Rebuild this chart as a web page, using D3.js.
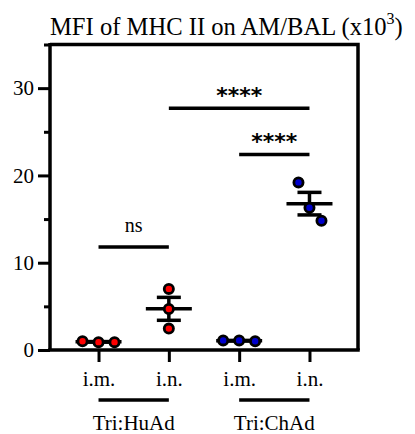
<!DOCTYPE html>
<html>
<head>
<meta charset="utf-8">
<script src="https://cdn.jsdelivr.net/npm/d3@7"></script>
<style>
  html, body { margin: 0; padding: 0; background: #fff; }
  svg { display: block; }
  text { font-family: "Liberation Serif", Tinos, "Times New Roman", Times, "DejaVu Serif", serif; fill: #000; }
</style>
</head>
<body>
<div id="chart"></div>
<script>
// ---- data ----
const categories = ["i.m.", "i.n.", "i.m.", "i.n."];
const groupLabels = ["Tri:HuAd", "Tri:ChAd"];
const huAdIm = [1.0, 0.9, 0.9];
const huAdIn = [7.0, 4.7, 2.45];
const chAdIm = [1.1, 1.1, 1.0];
const chAdIn = [19.2, 16.3, 14.8];
const seriesValues = [huAdIm, huAdIn, chAdIm, chAdIn];
const seriesColors = ["#ff0000", "#ff0000", "#0000cc", "#0000cc"];
const yTicks = [0, 10, 20, 30];
const yMinorTicks = [5, 15, 25, 35];
const comparisons = [
  { from: 0, to: 1, y: 11.8, label: "ns" },
  { from: 1, to: 3, y: 27.7, label: "****" },
  { from: 2, to: 3, y: 22.4, label: "****" }
];
const title = "MFI of MHC II on AM/BAL (x10";

// ---- layout ----
const W = 415, H = 434;
const mLeft = 50, mRight = 358, mTop = 44.5, mBottom = 350;
const serif = '"Liberation Serif", Tinos, "Times New Roman", Times, "DejaVu Serif", serif';
const svg = d3.select("#chart").append("svg").attr("width", W).attr("height", H);

const y = d3.scaleLinear().domain([0, 35]).range([mBottom, mTop]);
const x = d3.scalePoint().domain(d3.range(categories.length)).range([mLeft, mRight]).padding(0.69);
const jitter = [[-16, 0, 16], [0, 0, 0], [-16, 0, 16], [-11, 0, 12]];

// frame top & right
svg.append("path")
  .attr("d", `M${mLeft},${mTop}H${mRight}V${mBottom}`)
  .attr("fill", "none").attr("stroke", "#000").attr("stroke-width", 3.5);

// y axis
const yAxis = svg.append("g").attr("transform", `translate(${mLeft},0)`)
  .call(d3.axisLeft(y).tickValues(yTicks).tickSize(12).tickPadding(4));
yAxis.attr("font-family", null).attr("font-size", null);
svg.append("g").attr("transform", `translate(${mLeft},0)`)
  .call(d3.axisLeft(y).tickValues(yMinorTicks).tickSize(6).tickFormat(""))
  .call(g => g.select(".domain").remove())
  .selectAll("line").attr("stroke", "#000").attr("stroke-width", 3);
yAxis.select(".domain").attr("d", `M0,${mTop - 1.5}V${mBottom}`).attr("stroke", "#000").attr("stroke-width", 3.5);
yAxis.selectAll(".tick line").attr("stroke", "#000").attr("stroke-width", 3);
yAxis.selectAll(".tick text")
  .style("font-family", serif).style("font-size", "21px").attr("fill", "#000");

// x axis
const xAxis = svg.append("g").attr("transform", `translate(0,${mBottom})`)
  .call(d3.axisBottom(x).tickSize(12).tickPadding(10).tickFormat(i => categories[i]));
xAxis.attr("font-family", null).attr("font-size", null);
xAxis.select(".domain").attr("d", `M${mLeft - 1.75},0H${mRight + 1.75}`).attr("stroke", "#000").attr("stroke-width", 3.5);
xAxis.selectAll(".tick line").attr("stroke", "#000").attr("stroke-width", 3);
xAxis.selectAll(".tick text")
  .style("font-family", serif).style("font-size", "21px").attr("fill", "#000")
  .attr("dy", null).attr("y", 36);

// group underlines & labels
groupLabels.forEach((lab, g) => {
  const x0 = x(g * 2), x1 = x(g * 2 + 1);
  svg.append("line").attr("x1", x0).attr("x2", x1).attr("y1", 400).attr("y2", 400)
    .attr("stroke", "#000").attr("stroke-width", 3.5);
  svg.append("text").attr("x", (x0 + x1) / 2).attr("y", 430).attr("text-anchor", "middle")
    .style("font-family", serif).style("font-size", "21px").text(lab);
});

// mean / SEM
seriesValues.forEach((vals, i) => {
  const m = d3.mean(vals);
  const sem = d3.deviation(vals) / Math.sqrt(vals.length);
  const cx = x(i);
  const g = svg.append("g").attr("stroke", "#000").attr("stroke-width", 3.5);
  g.append("line").attr("x1", cx).attr("x2", cx).attr("y1", y(m - sem)).attr("y2", y(m + sem));
  g.append("line").attr("x1", cx - 23).attr("x2", cx + 23).attr("y1", y(m)).attr("y2", y(m));
  g.append("line").attr("x1", cx - 12).attr("x2", cx + 12).attr("y1", y(m + sem)).attr("y2", y(m + sem));
  g.append("line").attr("x1", cx - 12).attr("x2", cx + 12).attr("y1", y(m - sem)).attr("y2", y(m - sem));
});

// points
seriesValues.forEach((vals, i) => {
  svg.append("g").selectAll("circle").data(vals).join("circle")
    .attr("cx", (d, j) => x(i) + jitter[i][j])
    .attr("cy", d => y(d))
    .attr("r", 4.6)
    .attr("fill", seriesColors[i])
    .attr("stroke", "#000").attr("stroke-width", 2.8);
});

// significance
comparisons.forEach(c => {
  const x0 = x(c.from), x1 = x(c.to), yy = y(c.y);
  svg.append("line").attr("x1", x0).attr("x2", x1).attr("y1", yy).attr("y2", yy)
    .attr("stroke", "#000").attr("stroke-width", 3.5);
  if (c.label === "ns") {
    svg.append("text").attr("x", (x0 + x1) / 2).attr("y", yy - 15).attr("text-anchor", "middle")
      .style("font-family", serif).style("font-size", "20px").text(c.label);
  } else {
    svg.append("text").attr("x", (x0 + x1) / 2).attr("y", yy - 5).attr("text-anchor", "middle")
      .style("font-family", "DejaVu Sans").style("font-weight", "bold").style("font-size", "22px")
      .text(c.label);
  }
});

// title
const t = svg.append("text").attr("x", 50).attr("y", 35)
  .style("font-family", serif).style("font-size", "24.6px");
t.append("tspan").text(title);
t.append("tspan").attr("dy", -11).style("font-size", "16px").text("3");
t.append("tspan").attr("dy", 11).text(")");
</script>
</body>
</html>
